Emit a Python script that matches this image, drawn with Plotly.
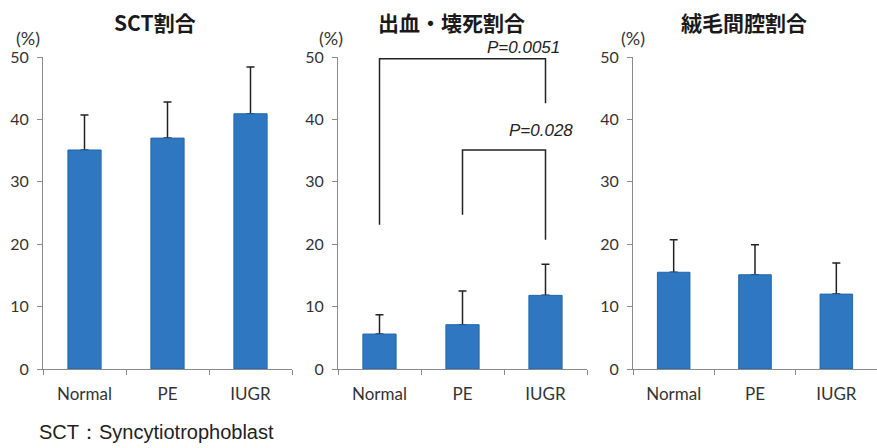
import plotly.graph_objects as go

categories = ["Normal", "PE", "IUGR"]
panel_titles = ["SCT割合", "出血・壊死割合", "絨毛間腔割合"]
sct_mean = [35.1, 37.0, 40.9]
sct_err = [5.6, 5.8, 7.5]
hem_mean = [5.6, 7.1, 11.8]
hem_err = [3.1, 5.4, 5.0]
ivs_mean = [15.5, 15.1, 12.0]
ivs_err = [5.2, 4.8, 5.0]
y_ticks = [0, 10, 20, 30, 40, 50]
# significance brackets in panel 2: (left cat, right cat, top, left foot, right foot, label)
brackets = [
    (0, 2, 49.7, 23.1, 42.6, "P=0.0051"),
    (1, 2, 35.1, 24.7, 20.7, "P=0.028"),
]
footnote = "SCT：Syncytiotrophoblast"

means = [sct_mean, hem_mean, ivs_mean]
errs = [sct_err, hem_err, ivs_err]

BAR = "#2f77c0"
BAR_EDGE = "#2166a8"
INK = "#222222"
AX = "#8a8a8a"

x_domains = [[43/877, 292/877], [338/877, 587/877], [633/877, 1.0]]
y_domain = [79/448, 391/448]

fig = go.Figure()
for i in range(3):
    xa = "x" if i == 0 else f"x{i+1}"
    ya = "y" if i == 0 else f"y{i+1}"
    fig.add_trace(go.Bar(
        x=categories, y=means[i], xaxis=xa, yaxis=ya, width=0.4,
        marker=dict(color="rgba(0,0,0,0)", line=dict(width=0)),
        error_y=dict(type="data", symmetric=False, array=errs[i],
                     arrayminus=[0]*3, color=INK, thickness=1.5, width=4),
        showlegend=False, hoverinfo="skip"))
    fig.add_trace(go.Bar(
        x=categories, y=means[i], xaxis=xa, yaxis=ya, width=0.4,
        marker=dict(color=BAR, line=dict(color=BAR_EDGE, width=1)),
        showlegend=False))

layout = dict(
    width=877, height=448, margin=dict(l=0, r=0, t=0, b=0, autoexpand=False),
    paper_bgcolor="white", plot_bgcolor="white", barmode="overlay",
    font=dict(family="Lato, Noto Sans", color="#333333"),
)
for i in range(3):
    sx = "" if i == 0 else str(i+1)
    layout[f"xaxis{sx}"] = dict(
        domain=x_domains[i], anchor=f"y{sx}", type="category",
        categoryorder="array", categoryarray=categories, automargin=False,
        range=[-0.5, 2.5], showline=True, linecolor=AX, linewidth=1,
        ticks="outside", ticklen=5, tickcolor=AX, tickson="boundaries",
        showgrid=False, zeroline=False, ticklabelstandoff=10,
        tickfont=dict(family="Lato", size=17, color="#333333"))
    layout[f"yaxis{sx}"] = dict(
        domain=y_domain, anchor=f"x{sx}", range=[0, 50], tickvals=y_ticks,
        automargin=False,
        showline=True, linecolor=AX, linewidth=1, ticks="outside", ticklen=5,
        tickcolor=AX, showgrid=False, zeroline=False, ticklabelstandoff=5,
        tickfont=dict(family="Lato", size=16, color="#333333"))
fig.update_layout(**layout)

shapes = []
annotations = []
for (a, b, top, lf, rf, lab) in brackets:
    shapes.append(dict(type="path", xref="x2", yref="y2",
                       path=f"M {a},{lf} L {a},{top} L {b},{top} L {b},{rf}",
                       line=dict(color=INK, width=1.5)))
title_x = [155, 452, 744]
for i, t in enumerate(panel_titles):
    annotations.append(dict(text=f"<b>{t}</b>", x=title_x[i]/877, y=1-22/448,
                            xref="paper", yref="paper", showarrow=False,
                            xanchor="center", yanchor="middle",
                            font=dict(family="Noto Sans CJK JP", size=21, color="#1a1a1a")))
pct_x = [28, 331, 633]
for px in pct_x:
    annotations.append(dict(text="(%)", x=px/877, y=1-38/448, xref="paper", yref="paper",
                            showarrow=False, xanchor="center", yanchor="middle",
                            font=dict(family="Lato", size=18, color="#333333")))
p_pos = [(523, 48), (541, 130)]
for (px, py), br in zip(p_pos, brackets):
    annotations.append(dict(text=f"<i>{br[5]}</i>", x=px/877, y=1-py/448,
                            xref="paper", yref="paper", showarrow=False,
                            xanchor="center", yanchor="middle",
                            font=dict(family="Liberation Sans", size=17, color="#222222")))
annotations.append(dict(text=footnote, x=37/877, y=1-432/448, xref="paper", yref="paper",
                        showarrow=False, xanchor="left", yanchor="middle",
                        font=dict(family="Liberation Sans", size=20, color="#222222")))
fig.update_layout(shapes=shapes, annotations=annotations)

fig.write_html("out.html")
